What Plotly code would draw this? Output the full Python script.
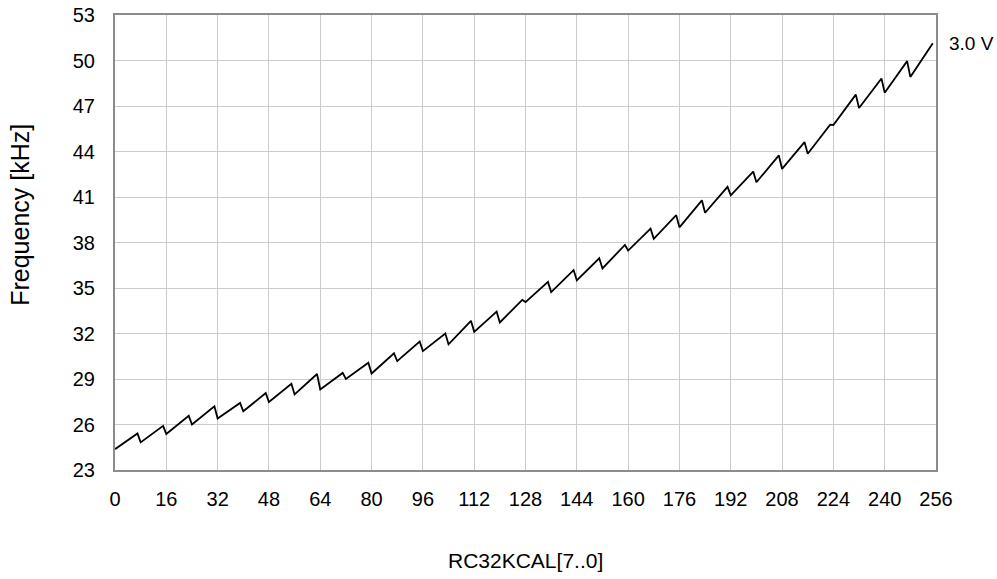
import plotly.graph_objects as go

# RC32KCAL code vs. oscillator frequency
# (start and end of each 8-step segment)
cal_code = [
    0, 7, 8, 15, 16, 23, 24, 31, 32, 39, 40, 47, 48, 55, 56, 63,
    64, 71, 72, 79, 80, 87, 88, 95, 96, 103, 104, 111, 112, 119, 120, 127,
    128, 135, 136, 143, 144, 151, 152, 159, 160, 167, 168, 175, 176, 183, 184, 191,
    192, 199, 200, 207, 208, 215, 216, 223, 224, 231, 232, 239, 240, 247, 248, 255,
]
freq_khz = [
    24.37, 25.41, 24.82, 25.91, 25.37, 26.57, 26.00, 27.20,
    26.39, 27.42, 26.87, 28.07, 27.48, 28.68, 27.98, 29.33,
    28.31, 29.40, 29.00, 30.07, 29.36, 30.69, 30.18, 31.47,
    30.84, 32.00, 31.29, 32.84, 32.11, 33.44, 32.73, 34.22,
    34.07, 35.40, 34.73, 36.18, 35.51, 36.96, 36.29, 37.84,
    37.47, 38.91, 38.24, 39.80, 39.00, 40.78, 39.96, 41.67,
    41.11, 42.68, 41.97, 43.74, 42.85, 44.62, 43.85, 45.77,
    45.75, 47.75, 46.87, 48.81, 47.88, 49.96, 48.92, 51.13,
]
x_ticks = list(range(0, 257, 16))
y_ticks = list(range(23, 54, 3))
series_label = "3.0 V"

FONT = "Liberation Sans, Arial, sans-serif"

fig = go.Figure()
fig.add_trace(go.Scatter(x=cal_code, y=freq_khz, mode="lines",
                         line=dict(color="black", width=1.8), showlegend=False))

fig.add_annotation(x=cal_code[-1], y=freq_khz[-1], text=series_label,
                   showarrow=False, xanchor="left", yanchor="middle",
                   xshift=14, font=dict(family=FONT, size=19, color="black"))
fig.add_annotation(x=0.5, y=-0.198, xref="paper", yref="paper",
                   text="RC32KCAL[7..0]", showarrow=False,
                   xanchor="center", yanchor="middle",
                   font=dict(family=FONT, size=21, color="black"))
fig.add_annotation(x=-0.115, y=0.56, xref="paper", yref="paper",
                   text="Frequency [kHz]", textangle=-90, showarrow=False,
                   xanchor="center", yanchor="middle",
                   font=dict(family=FONT, size=25, color="black"))

axis_common = dict(showgrid=True, gridcolor="#cccccc", gridwidth=1,
                   showline=True, linecolor="#8c8c8c", linewidth=2, mirror=True,
                   zeroline=False, ticks="outside", tickcolor="rgba(0,0,0,0)",
                   automargin=False,
                   tickfont=dict(family=FONT, size=20, color="black"))
fig.update_xaxes(range=[0, 256], tickvals=x_ticks, ticklen=10, **axis_common)
fig.update_yaxes(range=[23, 53], tickvals=y_ticks, ticklen=14, **axis_common)

fig.update_layout(
    width=997, height=579,
    margin=dict(l=115, r=61, t=15, b=109),
    plot_bgcolor="white", paper_bgcolor="white",
)
fig.write_html("out.html", config={"displayModeBar": False},
               post_script="document.body.style.margin='0';")
